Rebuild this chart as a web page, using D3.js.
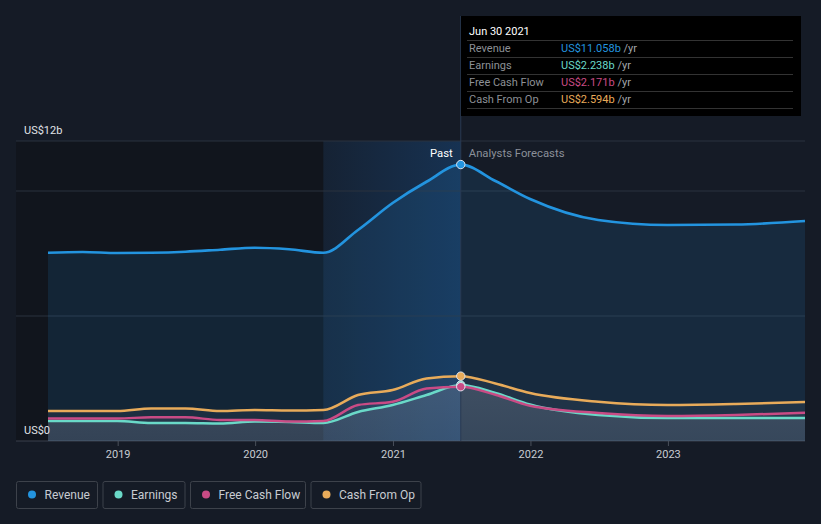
<!DOCTYPE html>
<html><head><meta charset="utf-8">
<script src="https://cdn.jsdelivr.net/npm/d3@7"></script>
<style>
html,body{margin:0;padding:0;background:#151b26;}
svg{display:block;font-family:Roboto,"Noto Sans",sans-serif;}
</style></head>
<body><svg id="c" width="821" height="524"></svg>
<script>
const dates = ["2018-06-30","2018-09-30","2018-12-31","2019-03-31","2019-06-30","2019-09-30","2019-12-31","2020-03-31","2020-06-30","2020-09-30","2020-12-31","2021-03-31","2021-06-30","2021-09-30","2021-12-31","2022-06-30","2022-12-31","2023-06-30","2023-12-31"];
const revenue  = [7.53,7.56,7.52,7.53,7.57,7.65,7.73,7.67,7.53,8.44,9.52,10.37,11.058,10.4,9.68,8.84,8.64,8.66,8.80];
const earnings = [0.80,0.80,0.80,0.72,0.72,0.70,0.78,0.76,0.72,1.16,1.44,1.84,2.238,1.92,1.46,1.04,0.92,0.92,0.92];
const fcf      = [0.90,0.90,0.90,0.95,0.95,0.84,0.84,0.78,0.80,1.44,1.57,2.10,2.171,1.85,1.41,1.12,1.00,1.04,1.13];
const cfo      = [1.20,1.20,1.20,1.30,1.30,1.20,1.24,1.22,1.24,1.84,2.04,2.50,2.594,2.30,1.92,1.57,1.44,1.48,1.56];
const seriesNames = ["Revenue","Earnings","Free Cash Flow","Cash From Op"];
const seriesColors = ["#2394df","#6ad9c8","#c94b85","#e8ab5a"];
const tooltipDate = "Jun 30 2021";
const tooltipValues = ["US$11.058b","US$2.238b","US$2.171b","US$2.594b"];
const yTicks = [0,5,10,12];
const yLabels = ["US$0","US$12b"];
const pastIndex = 12;
const bandStart = "2020-06-30";

const parse = d3.timeParse("%Y-%m-%d");
const D = dates.map(parse);
const svg = d3.select("#c");
const x = d3.scaleTime().domain([D[0], D[D.length-1]]).range([48,805]);
const y = d3.scaleLinear().domain([0,12]).range([441,141]);
const pastX = x(D[pastIndex]);

const defs = svg.append("defs");
const bg = defs.append("linearGradient").attr("id","band").attr("x1",0).attr("x2",1).attr("y1",0).attr("y2",0);
bg.append("stop").attr("offset",0).attr("stop-color","#1a63b0").attr("stop-opacity",0.10);
bg.append("stop").attr("offset",1).attr("stop-color","#1a63b0").attr("stop-opacity",0.32);
const gg = defs.append("linearGradient").attr("id","grey").attr("x1",0).attr("x2",0).attr("y1",0).attr("y2",1);
gg.append("stop").attr("offset",0).attr("stop-color","#8a93a6").attr("stop-opacity",0.22);
gg.append("stop").attr("offset",1).attr("stop-color","#8a93a6").attr("stop-opacity",0.14);

// darker past region
svg.append("rect").attr("x",16).attr("y",141).attr("width",x(parse(bandStart))-16).attr("height",300).attr("fill","#10141b").attr("opacity",0.8);
// past 1y highlight band
svg.append("rect").attr("x",x(parse(bandStart))).attr("y",141).attr("width",pastX-x(parse(bandStart))).attr("height",300).attr("fill","url(#band)");

// gridlines
svg.append("g").selectAll("line").data(yTicks).join("line")
  .attr("x1",16).attr("x2",805).attr("y1",d=>y(d)).attr("y2",d=>y(d))
  .attr("stroke",d=>d===0?"#3a414d":"#2b323e").attr("stroke-width",1);

const area = vals => d3.area().x((d,i)=>x(D[i])).y0(y(0)).y1(d=>y(d)).curve(d3.curveMonotoneX)(vals);
const line = vals => d3.line().x((d,i)=>x(D[i])).y(d=>y(d)).curve(d3.curveMonotoneX)(vals);

svg.append("path").attr("d",area(revenue)).attr("fill","#2394df").attr("opacity",0.13);
[cfo,fcf,earnings].forEach((v,k)=>{
  svg.append("path").attr("d",area(v)).attr("fill",k===2?"url(#grey)":"#8a93a6").attr("opacity",k===2?1:0.09);
});

const all = [revenue,earnings,fcf,cfo];
const order = [1,2,3,0];
order.forEach(k=>{
  svg.append("path").attr("d",line(all[k])).attr("fill","none").attr("stroke",seriesColors[k]).attr("stroke-width",k===0?2.7:2.5);
});

// cursor line
svg.append("line").attr("x1",pastX).attr("x2",pastX).attr("y1",16).attr("y2",441).attr("stroke","#2a3a52").attr("stroke-width",1);

// markers
order.forEach(k=>{
  svg.append("circle").attr("cx",pastX).attr("cy",y(all[k][pastIndex])).attr("r",4.2)
    .attr("fill",seriesColors[k]).attr("stroke","#dfe6f0").attr("stroke-width",1);
});

// x axis
const xAxis = d3.axisBottom(x).ticks(d3.timeYear.every(1)).tickFormat(d3.timeFormat("%Y")).tickSize(5).tickPadding(4);
const xg = svg.append("g").attr("transform","translate(0,441)").call(xAxis);
xg.select(".domain").remove();
xg.selectAll("line").attr("stroke","#4a505b");
xg.selectAll("text").attr("fill","#c8ccd2").attr("font-size",11).attr("font-family","Roboto");

// y labels
svg.append("text").attr("x",24).attr("y",134).attr("fill","#e0e3e8").attr("font-size",11).text(yLabels[1]);
svg.append("text").attr("x",24).attr("y",434).attr("fill","#e0e3e8").attr("font-size",11).text(yLabels[0]);

// past / forecast labels
svg.append("text").attr("x",pastX-8).attr("y",157).attr("text-anchor","end").attr("fill","#ffffff").attr("font-size",11.3).text("Past");
svg.append("text").attr("x",pastX+8).attr("y",157).attr("fill","#8b9099").attr("font-size",11.3).text("Analysts Forecasts");

// tooltip
const tt = svg.append("g");
tt.append("rect").attr("x",461).attr("y",16).attr("width",340).attr("height",100).attr("fill","#000");
tt.append("text").attr("x",469).attr("y",35).attr("fill","#fff").attr("font-size",11).text(tooltipDate);
[40,57,74,91,108].forEach(yy=>tt.append("line").attr("x1",467).attr("x2",793).attr("y1",yy+0.5).attr("y2",yy+0.5).attr("stroke","#333"));
seriesNames.forEach((n,i)=>{
  const yy = 52+i*17;
  tt.append("text").attr("x",469).attr("y",yy).attr("fill","#8d9096").attr("font-size",11).text(n);
  const t = tt.append("text").attr("x",561).attr("y",yy).attr("font-size",11);
  t.append("tspan").attr("fill",seriesColors[i]).text(tooltipValues[i]);
  t.append("tspan").attr("fill","#a3a6ab").text(" /yr");
});

// legend
const leg = svg.append("g");
let lx = 16.5;
const widths = [81,82,115,110];
seriesNames.forEach((n,i)=>{
  const g = leg.append("g").attr("transform",`translate(${lx},481.5)`);
  g.append("rect").attr("width",widths[i]).attr("height",27).attr("rx",2).attr("fill","none").attr("stroke","#3d424b");
  g.append("circle").attr("cx",15.5).attr("cy",13).attr("r",4).attr("fill",seriesColors[i]);
  g.append("text").attr("x",28).attr("y",17).attr("fill","#c8ccd2").attr("font-size",12).text(n);
  lx += widths[i]+5.5;
});
</script></body></html>
